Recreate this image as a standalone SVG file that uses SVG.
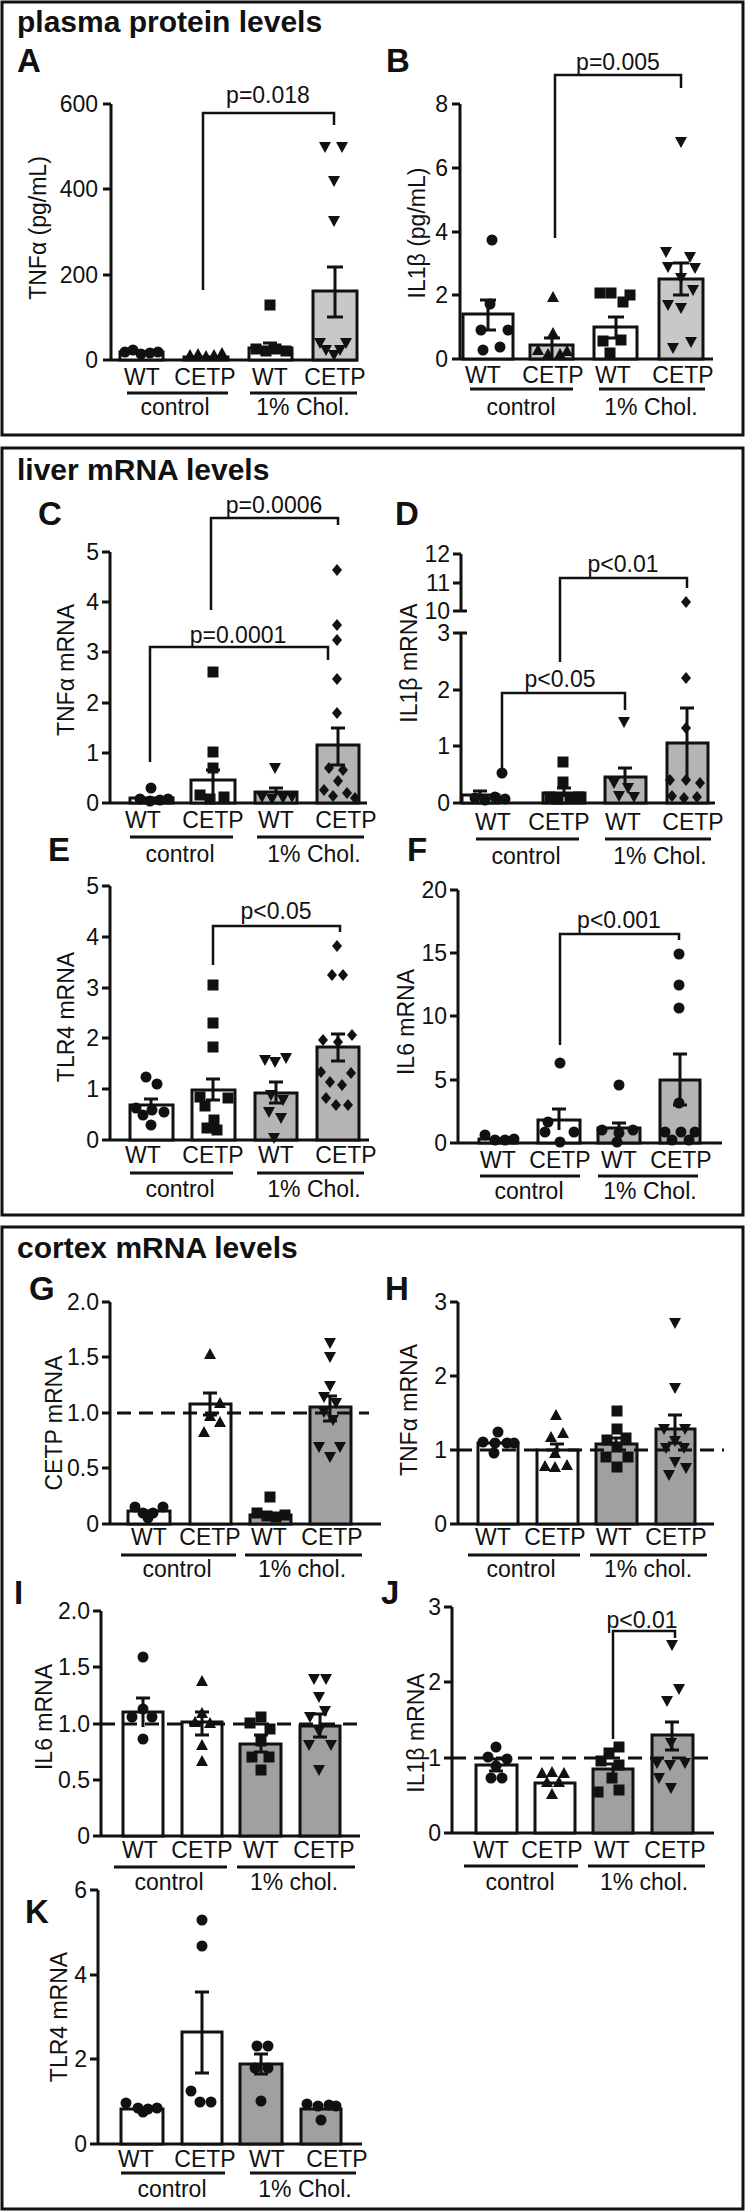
<svg xmlns="http://www.w3.org/2000/svg" xmlns:xlink="http://www.w3.org/1999/xlink" width="746" height="2212" viewBox="0 0 746 2212">
<style>
.box{fill:none;stroke:#111;stroke-width:3}
.ax{fill:none;stroke:#111;stroke-width:3}
.br{fill:none;stroke:#111;stroke-width:2.5}
.dash{fill:none;stroke:#111;stroke-width:3;stroke-dasharray:14,8}
.w{fill:#fff;stroke:#111;stroke-width:3}
.g1{fill:#c8c8c8;stroke:#111;stroke-width:3}
.g2{fill:#b4b4b4;stroke:#111;stroke-width:3}
.g3{fill:#a0a0a0;stroke:#111;stroke-width:3}
.err{fill:none;stroke:#111;stroke-width:3}
.ttl{font-family:"Liberation Sans",Arial,sans-serif;font-weight:bold;font-size:30px;fill:#111}
.let{font-family:"Liberation Sans",Arial,sans-serif;font-weight:bold;font-size:33px;fill:#111}
.n{font-family:"Liberation Sans",Arial,sans-serif;font-size:23px;fill:#111}
.m{font-family:"Liberation Sans Narrow","Liberation Sans",Arial,sans-serif;font-size:23px;fill:#111}
.e{text-anchor:end}
.c{text-anchor:middle}
.pt{fill:#111}
</style>
<defs>
<circle id="c" r="5.5" class="pt"/>
<rect id="s" x="-5.5" y="-5.5" width="11" height="11" class="pt"/>
<polygon id="u" points="0,-6 6,5 -6,5" class="pt"/>
<polygon id="d" points="-6,-5 6,-5 0,6" class="pt"/>
<polygon id="m" points="0,-6 5,0 0,6 -5,0" class="pt"/>
</defs>

<g id="frames">
<rect class="box" x="2" y="2" width="741" height="433"/>
<rect class="box" x="2" y="448" width="741" height="767"/>
<rect class="box" x="2" y="1227" width="741" height="982"/>
<text class="ttl" x="17" y="32">plasma protein levels</text>
<text class="ttl" x="17" y="480">liver mRNA levels</text>
<text class="ttl" x="17" y="1258">cortex mRNA levels</text>
</g>

<!-- Panel A -->
<g id="panelA">
<text class="let" x="17" y="72">A</text>
<path class="ax" d="M111,104V360H358M103,104H111M103,189H111M103,275H111M103,360H111"/>
<text class="n e" x="98" y="112">600</text><text class="n e" x="98" y="197">400</text><text class="n e" x="98" y="283">200</text><text class="n e" x="98" y="368">0</text>
<text class="n c" transform="translate(46,228) rotate(-90)">TNFα (pg/mL)</text>
<rect class="w" x="120" y="352" width="43" height="8"/>
<rect class="g1" x="184" y="357" width="44" height="3"/>
<rect class="w" x="249" y="348" width="43" height="12"/>
<rect class="g1" x="313" y="291" width="44" height="69"/>
<path class="err" d="M270,343V354M263,343H277M335,267V317M327,267H343M327,317H343"/>
<use href="#c" x="125" y="352"/><use href="#c" x="133" y="350"/><use href="#c" x="141" y="354"/><use href="#c" x="150" y="353"/><use href="#c" x="158" y="352"/>
<use href="#u" x="190" y="355"/><use href="#u" x="198" y="354"/><use href="#u" x="206" y="356"/><use href="#u" x="214" y="355"/><use href="#u" x="222" y="353"/>
<use href="#s" x="270" y="305"/><use href="#s" x="256" y="349"/><use href="#s" x="266" y="351"/><use href="#s" x="276" y="349"/><use href="#s" x="286" y="351"/>
<use href="#d" x="325" y="147"/><use href="#d" x="342" y="147"/><use href="#d" x="334" y="181"/><use href="#d" x="334" y="221"/><use href="#d" x="320" y="343"/><use href="#d" x="346" y="343"/><use href="#d" x="326" y="350"/><use href="#d" x="340" y="350"/><use href="#d" x="334" y="355"/>
<path class="br" d="M203,290V113H334V125"/>
<text class="n c" x="268" y="103">p=0.018</text>
<text class="n c" x="142" y="385">WT</text><text class="n c" x="205" y="385">CETP</text><text class="n c" x="270" y="385">WT</text><text class="n c" x="335" y="385">CETP</text>
<path class="ax" d="M127,393H228M250,393H357"/>
<text class="n c" x="175" y="415">control</text><text class="n c" x="303" y="415">1% Chol.</text>
</g>

<!-- Panel B -->
<g id="panelB">
<text class="let" x="386" y="72">B</text>
<path class="ax" d="M460,104V359H713M452,104H460M452,168H460M452,232H460M452,295H460M452,359H460"/>
<text class="n e" x="448" y="112">8</text><text class="n e" x="448" y="176">6</text><text class="n e" x="448" y="240">4</text><text class="n e" x="448" y="303">2</text><text class="n e" x="448" y="367">0</text>
<text class="n c" transform="translate(425,233) rotate(-90)">IL1β (pg/mL)</text>
<rect class="w" x="463" y="314" width="50" height="45"/>
<rect class="g1" x="530" y="345" width="43" height="14"/>
<rect class="w" x="594" y="327" width="43" height="32"/>
<rect class="g1" x="659" y="279" width="44" height="80"/>
<path class="err" d="M488,300V330M480,300H496M480,330H496M552,338V357M544,338H560M616,317V338M608,317H624M608,338H624M681,263V295M673,263H689M673,295H689"/>
<use href="#c" x="492" y="240"/><use href="#c" x="490" y="304"/><use href="#c" x="481" y="330"/><use href="#c" x="508" y="330"/><use href="#c" x="483" y="350"/><use href="#c" x="500" y="347"/>
<use href="#u" x="553" y="297"/><use href="#u" x="553" y="333"/><use href="#u" x="538" y="350"/><use href="#u" x="548" y="354"/><use href="#u" x="560" y="354"/><use href="#u" x="567" y="351"/>
<use href="#s" x="600" y="293"/><use href="#s" x="611" y="293"/><use href="#s" x="630" y="295"/><use href="#s" x="623" y="302"/><use href="#s" x="603" y="341"/><use href="#s" x="621" y="340"/><use href="#s" x="610" y="353"/>
<use href="#d" x="681" y="142"/><use href="#d" x="666" y="252"/><use href="#d" x="690" y="257"/><use href="#d" x="668" y="267"/><use href="#d" x="695" y="268"/><use href="#d" x="681" y="278"/><use href="#d" x="693" y="290"/><use href="#d" x="668" y="305"/><use href="#d" x="681" y="308"/><use href="#d" x="673" y="348"/><use href="#d" x="691" y="342"/>
<path class="br" d="M555,238V75H681V88"/>
<text class="n c" x="618" y="70">p=0.005</text>
<text class="n c" x="483" y="383">WT</text><text class="n c" x="553" y="383">CETP</text><text class="n c" x="613" y="383">WT</text><text class="n c" x="683" y="383">CETP</text>
<path class="ax" d="M470,389H573M599,389H705"/>
<text class="n c" x="521" y="415">control</text><text class="n c" x="651" y="415">1% Chol.</text>
</g>

<!-- Panel C -->
<g id="panelC">
<text class="let" x="38" y="525">C</text>
<path class="ax" d="M110,552V803H367M102,552H110M102,602H110M102,652H110M102,703H110M102,753H110M102,803H110"/>
<text class="m e" x="99" y="560">5</text><text class="m e" x="99" y="610">4</text><text class="m e" x="99" y="660">3</text><text class="m e" x="99" y="711">2</text><text class="m e" x="99" y="761">1</text><text class="m e" x="99" y="811">0</text>
<text class="m c" transform="translate(74,670) rotate(-90)">TNFα mRNA</text>
<rect class="w" x="130" y="798" width="43" height="5"/>
<rect class="w" x="191" y="780" width="44" height="23"/>
<rect class="g2" x="255" y="792" width="42" height="11"/>
<rect class="g2" x="317" y="745" width="42" height="58"/>
<path class="err" d="M213,770V795M206,770H220M276,788V795M269,788H283M338,728V765M331,728H345M331,765H345"/>
<use href="#c" x="151" y="788"/><use href="#c" x="140" y="799"/><use href="#c" x="150" y="801"/><use href="#c" x="160" y="800"/><use href="#c" x="168" y="799"/>
<use href="#s" x="213" y="672"/><use href="#s" x="213" y="752"/><use href="#s" x="213" y="768"/><use href="#s" x="200" y="795"/><use href="#s" x="210" y="799"/><use href="#s" x="224" y="797"/>
<use href="#d" x="275" y="768"/><use href="#d" x="262" y="797"/><use href="#d" x="272" y="799"/><use href="#d" x="283" y="798"/><use href="#d" x="292" y="797"/>
<use href="#m" x="337" y="570"/><use href="#m" x="337" y="625"/><use href="#m" x="337" y="640"/><use href="#m" x="337" y="679"/><use href="#m" x="337" y="713"/><use href="#m" x="329" y="768"/><use href="#m" x="343" y="770"/><use href="#m" x="338" y="781"/><use href="#m" x="324" y="790"/><use href="#m" x="333" y="796"/><use href="#m" x="347" y="793"/><use href="#m" x="355" y="798"/>
<path class="br" d="M211,610V518H338V525"/>
<text class="m c" x="274" y="513">p=0.0006</text>
<path class="br" d="M150,762V647H328V660"/>
<text class="m c" x="238" y="643">p=0.0001</text>
<text class="m c" x="143" y="828">WT</text><text class="m c" x="213" y="828">CETP</text><text class="m c" x="276" y="828">WT</text><text class="m c" x="346" y="828">CETP</text>
<path class="ax" d="M130,837H233M257,837H364"/>
<text class="m c" x="180" y="862">control</text><text class="m c" x="314" y="862">1% Chol.</text>
</g>

<!-- Panel D -->
<g id="panelD">
<text class="let" x="395" y="525">D</text>
<path class="ax" d="M461,554V611M461,633V803H715M453,554H461M453,583H461M453,611H467M453,633H467M453,690H461M453,746H461M453,803H461"/>
<text class="m e" x="450" y="562">12</text><text class="m e" x="450" y="591">11</text><text class="m e" x="450" y="619">10</text><text class="m e" x="450" y="641">3</text><text class="m e" x="450" y="698">2</text><text class="m e" x="450" y="754">1</text><text class="m e" x="450" y="811">0</text>
<text class="m c" transform="translate(417,663) rotate(-90)">IL1β mRNA</text>
<rect class="w" x="462" y="795" width="37" height="8"/>
<rect class="w" x="543" y="793" width="42" height="10"/>
<rect class="g2" x="605" y="777" width="41" height="26"/>
<rect class="g2" x="667" y="743" width="41" height="60"/>
<path class="err" d="M480,791V797M473,791H487M564,788V797M557,788H571M625,768V785M618,768H632M687,708V778M680,708H694"/>
<use href="#c" x="502" y="773"/><use href="#c" x="475" y="798"/><use href="#c" x="485" y="800"/><use href="#c" x="495" y="797"/><use href="#c" x="505" y="799"/>
<use href="#s" x="563" y="762"/><use href="#s" x="563" y="782"/><use href="#s" x="550" y="797"/><use href="#s" x="558" y="799"/><use href="#s" x="570" y="798"/><use href="#s" x="579" y="797"/>
<use href="#d" x="624" y="722"/><use href="#d" x="614" y="783"/><use href="#d" x="628" y="788"/><use href="#d" x="619" y="796"/><use href="#d" x="634" y="797"/>
<use href="#m" x="686" y="602"/><use href="#m" x="686" y="678"/><use href="#m" x="686" y="728"/><use href="#m" x="670" y="780"/><use href="#m" x="686" y="780"/><use href="#m" x="700" y="783"/><use href="#m" x="672" y="796"/><use href="#m" x="684" y="798"/><use href="#m" x="697" y="797"/>
<path class="br" d="M502,768V693H625V710"/>
<text class="m c" x="560" y="687">p&lt;0.05</text>
<path class="br" d="M560,662V578H687V588"/>
<text class="m c" x="623" y="572">p&lt;0.01</text>
<text class="m c" x="493" y="830">WT</text><text class="m c" x="559" y="830">CETP</text><text class="m c" x="623" y="830">WT</text><text class="m c" x="693" y="830">CETP</text>
<path class="ax" d="M476,839H579M605,839H711"/>
<text class="m c" x="526" y="864">control</text><text class="m c" x="660" y="864">1% Chol.</text>
</g>

<!-- Panel E -->
<g id="panelE">
<text class="let" x="48" y="861">E</text>
<path class="ax" d="M110,886V1140H369M102,886H110M102,937H110M102,988H110M102,1038H110M102,1089H110M102,1140H110"/>
<text class="m e" x="99" y="894">5</text><text class="m e" x="99" y="945">4</text><text class="m e" x="99" y="996">3</text><text class="m e" x="99" y="1046">2</text><text class="m e" x="99" y="1097">1</text><text class="m e" x="99" y="1148">0</text>
<text class="m c" transform="translate(74,1017) rotate(-90)">TLR4 mRNA</text>
<rect class="w" x="130" y="1105" width="43" height="35"/>
<rect class="w" x="192" y="1090" width="43" height="50"/>
<rect class="g2" x="255" y="1093" width="42" height="47"/>
<rect class="g2" x="317" y="1047" width="42" height="93"/>
<path class="err" d="M151,1099V1112M144,1099H158M213,1079V1100M206,1079H220M206,1100H220M276,1082V1103M269,1082H283M269,1103H283M338,1034V1061M331,1034H345M331,1061H345"/>
<use href="#c" x="146" y="1077"/><use href="#c" x="157" y="1084"/><use href="#c" x="136" y="1108"/><use href="#c" x="152" y="1110"/><use href="#c" x="164" y="1112"/><use href="#c" x="143" y="1115"/><use href="#c" x="151" y="1125"/>
<use href="#s" x="213" y="985"/><use href="#s" x="213" y="1023"/><use href="#s" x="213" y="1047"/><use href="#s" x="200" y="1097"/><use href="#s" x="228" y="1098"/><use href="#s" x="205" y="1106"/><use href="#s" x="214" y="1120"/><use href="#s" x="207" y="1128"/><use href="#s" x="217" y="1130"/>
<use href="#d" x="265" y="1060"/><use href="#d" x="275" y="1062"/><use href="#d" x="286" y="1058"/><use href="#d" x="271" y="1095"/><use href="#d" x="283" y="1100"/><use href="#d" x="269" y="1112"/><use href="#d" x="281" y="1118"/><use href="#d" x="274" y="1138"/>
<use href="#m" x="337" y="946"/><use href="#m" x="332" y="975"/><use href="#m" x="343" y="975"/><use href="#m" x="323" y="1040"/><use href="#m" x="352" y="1035"/><use href="#m" x="338" y="1042"/><use href="#m" x="321" y="1072"/><use href="#m" x="351" y="1073"/><use href="#m" x="330" y="1082"/><use href="#m" x="342" y="1085"/><use href="#m" x="326" y="1098"/><use href="#m" x="336" y="1105"/><use href="#m" x="348" y="1105"/>
<path class="br" d="M213,965V926H340V932"/>
<text class="m c" x="276" y="919">p&lt;0.05</text>
<text class="m c" x="143" y="1163">WT</text><text class="m c" x="213" y="1163">CETP</text><text class="m c" x="276" y="1163">WT</text><text class="m c" x="346" y="1163">CETP</text>
<path class="ax" d="M130,1173H233M257,1173H364"/>
<text class="m c" x="180" y="1197">control</text><text class="m c" x="314" y="1197">1% Chol.</text>
</g>

<!-- Panel F -->
<g id="panelF">
<text class="let" x="407" y="861">F</text>
<path class="ax" d="M458,890V1143H722M450,890H458M450,953H458M450,1016H458M450,1080H458M450,1143H458"/>
<text class="m e" x="447" y="898">20</text><text class="m e" x="447" y="961">15</text><text class="m e" x="447" y="1024">10</text><text class="m e" x="447" y="1088">5</text><text class="m e" x="447" y="1151">0</text>
<text class="m c" transform="translate(414,1022) rotate(-90)">IL6 mRNA</text>
<rect class="w" x="479" y="1139" width="38" height="4"/>
<rect class="w" x="538" y="1120" width="42" height="23"/>
<rect class="g2" x="598" y="1128" width="42" height="15"/>
<rect class="g2" x="660" y="1080" width="40" height="63"/>
<path class="err" d="M559,1109V1130M552,1109H566M619,1123V1135M612,1123H626M680,1054V1105M673,1054H687M673,1105H687"/>
<use href="#c" x="485" y="1135"/><use href="#c" x="495" y="1140"/><use href="#c" x="505" y="1140"/><use href="#c" x="514" y="1139"/>
<use href="#c" x="560" y="1063"/><use href="#c" x="548" y="1122"/><use href="#c" x="574" y="1132"/><use href="#c" x="545" y="1132"/><use href="#c" x="560" y="1142"/>
<use href="#c" x="619" y="1085"/><use href="#c" x="602" y="1130"/><use href="#c" x="633" y="1130"/><use href="#c" x="619" y="1133"/><use href="#c" x="617" y="1142"/>
<use href="#c" x="679" y="954"/><use href="#c" x="679" y="985"/><use href="#c" x="679" y="1008"/><use href="#c" x="679" y="1103"/><use href="#c" x="665" y="1132"/><use href="#c" x="681" y="1132"/><use href="#c" x="695" y="1132"/><use href="#c" x="672" y="1140"/><use href="#c" x="689" y="1140"/>
<path class="br" d="M560,1045V934H679V940"/>
<text class="m c" x="619" y="928">p&lt;0.001</text>
<text class="m c" x="498" y="1168">WT</text><text class="m c" x="560" y="1168">CETP</text><text class="m c" x="619" y="1168">WT</text><text class="m c" x="681" y="1168">CETP</text>
<path class="ax" d="M480,1176H580M598,1176H698"/>
<text class="m c" x="529" y="1199">control</text><text class="m c" x="650" y="1199">1% Chol.</text>
</g>

<!-- Panel G -->
<g id="panelG">
<text class="let" x="29" y="1300">G</text>
<path class="ax" d="M110,1302V1524H381M102,1302H110M102,1357H110M102,1413H110M102,1468H110M102,1524H110"/>
<text class="m e" x="99" y="1310">2.0</text><text class="m e" x="99" y="1365">1.5</text><text class="m e" x="99" y="1421">1.0</text><text class="m e" x="99" y="1476">0.5</text><text class="m e" x="99" y="1532">0</text>
<text class="m c" transform="translate(62,1423) rotate(-90)">CETP mRNA</text>
<rect class="w" x="128" y="1511" width="42" height="13"/>
<rect class="w" x="190" y="1404" width="41" height="120"/>
<rect class="g3" x="250" y="1515" width="41" height="9"/>
<rect class="g3" x="310" y="1407" width="41" height="117"/>
<path class="dash" d="M117,1413H369"/>
<path class="err" d="M210,1393V1415M203,1393H217M203,1415H217M330,1396V1421M323,1396H337M323,1421H337"/>
<use href="#c" x="135" y="1507"/><use href="#c" x="163" y="1507"/><use href="#c" x="143" y="1513"/><use href="#c" x="153" y="1513"/><use href="#c" x="148" y="1518"/>
<use href="#u" x="210" y="1354"/><use href="#u" x="220" y="1403"/><use href="#u" x="210" y="1416"/><use href="#u" x="220" y="1422"/><use href="#u" x="204" y="1432"/>
<use href="#s" x="270" y="1497"/><use href="#s" x="257" y="1513"/><use href="#s" x="267" y="1516"/><use href="#s" x="276" y="1517"/><use href="#s" x="285" y="1515"/>
<use href="#d" x="330" y="1343"/><use href="#d" x="330" y="1357"/><use href="#d" x="330" y="1386"/><use href="#d" x="324" y="1397"/><use href="#d" x="336" y="1403"/><use href="#d" x="324" y="1412"/><use href="#d" x="333" y="1420"/><use href="#d" x="319" y="1447"/><use href="#d" x="340" y="1447"/><use href="#d" x="330" y="1457"/>
<text class="m c" x="149" y="1545">WT</text><text class="m c" x="210" y="1545">CETP</text><text class="m c" x="269" y="1545">WT</text><text class="m c" x="332" y="1545">CETP</text>
<path class="ax" d="M121,1555H236M245,1555H362"/>
<text class="m c" x="177" y="1577">control</text><text class="m c" x="302" y="1577">1% chol.</text>
</g>

<!-- Panel H -->
<g id="panelH">
<text class="let" x="385" y="1300">H</text>
<path class="ax" d="M458,1302V1524H714M450,1302H458M450,1376H458M450,1450H458M450,1524H458"/>
<text class="m e" x="447" y="1310">3</text><text class="m e" x="447" y="1384">2</text><text class="m e" x="447" y="1458">1</text><text class="m e" x="447" y="1532">0</text>
<text class="m c" transform="translate(417,1410) rotate(-90)">TNFα mRNA</text>
<rect class="w" x="478" y="1443" width="40" height="81"/>
<rect class="w" x="537" y="1450" width="41" height="74"/>
<rect class="g3" x="596" y="1444" width="41" height="80"/>
<rect class="g3" x="656" y="1429" width="39" height="95"/>
<path class="dash" d="M458,1450H724"/>
<path class="err" d="M557,1444V1456M550,1444H564M616,1438V1450M609,1438H623M675,1415V1443M668,1415H682M668,1443H682"/>
<use href="#c" x="498" y="1432"/><use href="#c" x="483" y="1442"/><use href="#c" x="495" y="1443"/><use href="#c" x="507" y="1443"/><use href="#c" x="514" y="1443"/><use href="#c" x="494" y="1453"/>
<use href="#u" x="556" y="1415"/><use href="#u" x="551" y="1437"/><use href="#u" x="563" y="1433"/><use href="#u" x="555" y="1453"/><use href="#u" x="545" y="1466"/><use href="#u" x="555" y="1467"/><use href="#u" x="567" y="1465"/>
<use href="#s" x="617" y="1411"/><use href="#s" x="617" y="1429"/><use href="#s" x="607" y="1440"/><use href="#s" x="626" y="1438"/><use href="#s" x="617" y="1447"/><use href="#s" x="606" y="1457"/><use href="#s" x="628" y="1457"/><use href="#s" x="617" y="1467"/>
<use href="#d" x="675" y="1323"/><use href="#d" x="675" y="1388"/><use href="#d" x="664" y="1429"/><use href="#d" x="685" y="1429"/><use href="#d" x="675" y="1441"/><use href="#d" x="666" y="1448"/><use href="#d" x="684" y="1448"/><use href="#d" x="675" y="1462"/><use href="#d" x="686" y="1468"/><use href="#d" x="669" y="1475"/>
<text class="m c" x="493" y="1545">WT</text><text class="m c" x="555" y="1545">CETP</text><text class="m c" x="614" y="1545">WT</text><text class="m c" x="676" y="1545">CETP</text>
<path class="ax" d="M468,1555H580M590,1555H707"/>
<text class="m c" x="521" y="1577">control</text><text class="m c" x="648" y="1577">1% chol.</text>
</g>

<!-- Panel I -->
<g id="panelI">
<text class="let" x="14" y="1604">I</text>
<path class="ax" d="M101,1611V1836H360M93,1611H101M93,1667H101M93,1724H101M93,1780H101M93,1836H101"/>
<text class="m e" x="90" y="1619">2.0</text><text class="m e" x="90" y="1675">1.5</text><text class="m e" x="90" y="1732">1.0</text><text class="m e" x="90" y="1788">0.5</text><text class="m e" x="90" y="1844">0</text>
<text class="m c" transform="translate(52,1717) rotate(-90)">IL6 mRNA</text>
<rect class="w" x="123" y="1712" width="40" height="124"/>
<rect class="w" x="182" y="1722" width="40" height="114"/>
<rect class="g3" x="240" y="1744" width="41" height="92"/>
<rect class="g3" x="300" y="1726" width="40" height="110"/>
<path class="dash" d="M101,1724H360"/>
<path class="err" d="M143,1698V1727M136,1698H150M202,1712V1735M195,1712H209M195,1735H209M261,1735V1752M254,1735H268M254,1752H268M320,1714V1737M313,1714H327M313,1737H327"/>
<use href="#c" x="143" y="1657"/><use href="#c" x="143" y="1709"/><use href="#c" x="132" y="1717"/><use href="#c" x="152" y="1717"/><use href="#c" x="143" y="1739"/>
<use href="#u" x="202" y="1681"/><use href="#u" x="202" y="1713"/><use href="#u" x="195" y="1722"/><use href="#u" x="210" y="1723"/><use href="#u" x="202" y="1745"/><use href="#u" x="202" y="1761"/>
<use href="#s" x="261" y="1717"/><use href="#s" x="250" y="1723"/><use href="#s" x="270" y="1729"/><use href="#s" x="261" y="1741"/><use href="#s" x="252" y="1757"/><use href="#s" x="269" y="1757"/><use href="#s" x="261" y="1770"/>
<use href="#d" x="314" y="1679"/><use href="#d" x="326" y="1679"/><use href="#d" x="319" y="1697"/><use href="#d" x="325" y="1711"/><use href="#d" x="310" y="1717"/><use href="#d" x="319" y="1731"/><use href="#d" x="309" y="1745"/><use href="#d" x="331" y="1745"/><use href="#d" x="319" y="1770"/>
<text class="m c" x="140" y="1858">WT</text><text class="m c" x="202" y="1858">CETP</text><text class="m c" x="261" y="1858">WT</text><text class="m c" x="324" y="1858">CETP</text>
<path class="ax" d="M114,1867H227M237,1867H355"/>
<text class="m c" x="169" y="1890">control</text><text class="m c" x="294" y="1890">1% chol.</text>
</g>

<!-- Panel J -->
<g id="panelJ">
<text class="let" x="381" y="1604">J</text>
<path class="ax" d="M452,1607V1833H714M444,1607H452M444,1682H452M444,1758H452M444,1833H452"/>
<text class="m e" x="441" y="1615">3</text><text class="m e" x="441" y="1690">2</text><text class="m e" x="441" y="1766">1</text><text class="m e" x="441" y="1841">0</text>
<text class="m c" transform="translate(424,1733) rotate(-90)">IL1β mRNA</text>
<rect class="w" x="476" y="1765" width="41" height="68"/>
<rect class="w" x="535" y="1783" width="40" height="50"/>
<rect class="g3" x="593" y="1769" width="40" height="64"/>
<rect class="g3" x="652" y="1735" width="41" height="98"/>
<path class="dash" d="M452,1758H714"/>
<path class="err" d="M496,1759V1771M489,1759H503M489,1771H503M613,1764V1774M606,1764H620M672,1722V1750M665,1722H679M665,1750H679"/>
<use href="#c" x="496" y="1747"/><use href="#c" x="488" y="1757"/><use href="#c" x="507" y="1759"/><use href="#c" x="496" y="1766"/><use href="#c" x="491" y="1778"/><use href="#c" x="502" y="1778"/>
<use href="#u" x="542" y="1773"/><use href="#u" x="552" y="1772"/><use href="#u" x="564" y="1773"/><use href="#u" x="547" y="1782"/><use href="#u" x="559" y="1782"/><use href="#u" x="552" y="1794"/>
<use href="#s" x="619" y="1747"/><use href="#s" x="609" y="1753"/><use href="#s" x="601" y="1761"/><use href="#s" x="619" y="1765"/><use href="#s" x="612" y="1778"/><use href="#s" x="598" y="1792"/><use href="#s" x="619" y="1790"/>
<use href="#d" x="672" y="1645"/><use href="#d" x="679" y="1689"/><use href="#d" x="667" y="1701"/><use href="#d" x="671" y="1743"/><use href="#d" x="657" y="1763"/><use href="#d" x="670" y="1765"/><use href="#d" x="685" y="1763"/><use href="#d" x="659" y="1778"/><use href="#d" x="671" y="1788"/>
<path class="br" d="M613,1739V1631H675V1638"/>
<text class="m c" x="642" y="1628">p&lt;0.01</text>
<text class="m c" x="491" y="1858">WT</text><text class="m c" x="552" y="1858">CETP</text><text class="m c" x="612" y="1858">WT</text><text class="m c" x="675" y="1858">CETP</text>
<path class="ax" d="M464,1866H578M588,1866H705"/>
<text class="m c" x="520" y="1890">control</text><text class="m c" x="644" y="1890">1% chol.</text>
</g>

<!-- Panel K -->
<g id="panelK">
<text class="let" x="25" y="1923">K</text>
<path class="ax" d="M98,1890V2144H362M90,1890H98M90,1975H98M90,2059H98M90,2144H98"/>
<text class="m e" x="87" y="1898">6</text><text class="m e" x="87" y="1983">4</text><text class="m e" x="87" y="2067">2</text><text class="m e" x="87" y="2152">0</text>
<text class="m c" transform="translate(67,2017) rotate(-90)">TLR4 mRNA</text>
<rect class="w" x="121" y="2109" width="42" height="35"/>
<rect class="w" x="182" y="2032" width="40" height="112"/>
<rect class="g3" x="240" y="2064" width="42" height="80"/>
<rect class="g3" x="301" y="2109" width="40" height="35"/>
<path class="err" d="M202,1992V2073M195,1992H209M195,2073H209M261,2054V2074M254,2054H268M254,2074H268"/>
<use href="#c" x="126" y="2103"/><use href="#c" x="138" y="2108"/><use href="#c" x="148" y="2109"/><use href="#c" x="157" y="2108"/><use href="#c" x="143" y="2112"/>
<use href="#c" x="202" y="1920"/><use href="#c" x="202" y="1946"/><use href="#c" x="191" y="2091"/><use href="#c" x="200" y="2102"/><use href="#c" x="211" y="2102"/>
<use href="#c" x="257" y="2046"/><use href="#c" x="268" y="2046"/><use href="#c" x="255" y="2068"/><use href="#c" x="268" y="2068"/><use href="#c" x="261" y="2101"/>
<use href="#c" x="307" y="2104"/><use href="#c" x="318" y="2106"/><use href="#c" x="329" y="2105"/><use href="#c" x="336" y="2106"/><use href="#c" x="321" y="2120"/>
<text class="m c" x="136" y="2167">WT</text><text class="m c" x="205" y="2167">CETP</text><text class="m c" x="267" y="2167">WT</text><text class="m c" x="337" y="2167">CETP</text>
<path class="ax" d="M121,2173H225M250,2173H356"/>
<text class="m c" x="172" y="2197">control</text><text class="m c" x="305" y="2197">1% Chol.</text>
</g>
</svg>
